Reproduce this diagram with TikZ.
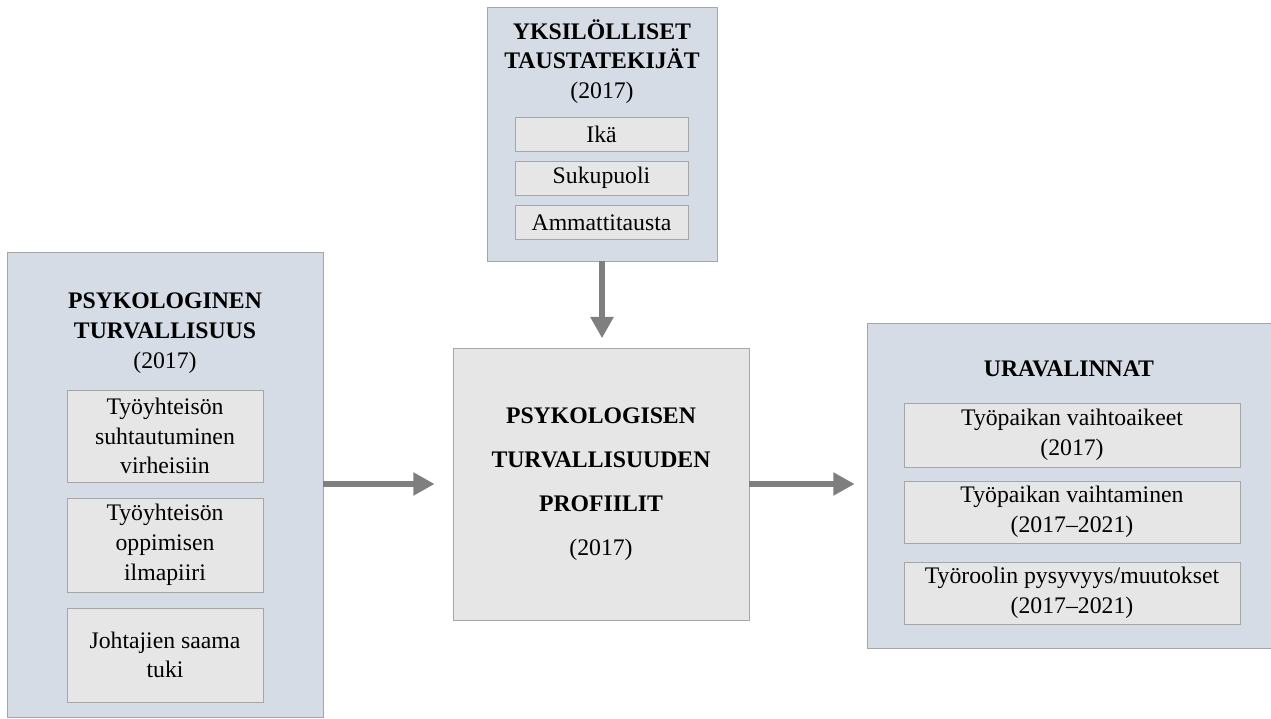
\documentclass[tikz,border=0pt]{standalone}
\usepackage{fontspec}
\setmainfont{Liberation Serif}
\usetikzlibrary{arrows.meta,positioning}
\definecolor{panelblue}{HTML}{D6DCE5}
\definecolor{itemgray}{HTML}{E7E6E6}
\definecolor{edgegray}{HTML}{A6A6A6}
\definecolor{arrowgray}{HTML}{7F7F7F}
\tikzset{
    boxsize/.style args={#1 by #2}{% sizes in pixels of the sketch
        minimum width=#1*0.75pt, minimum height=#2*0.75pt},
    panel/.style={% outer blue-gray frame
        draw=edgegray, fill=panelblue, line width=0.6pt, inner sep=0pt},
    item/.style={% inner gray box
        draw=edgegray, fill=itemgray, line width=0.6pt, inner sep=0pt, align=center},
    heading/.style={align=center, inner sep=0pt},
    flow/.style={draw=arrowgray, line width=5.2pt, -{Triangle[width=16.5pt,length=16pt]}}}

\begin{document}
\begin{tikzpicture}[x=0.75pt, y=-0.75pt, font=\fontsize{17.8}{22.3}\selectfont]
\useasboundingbox (0,0) rectangle (1271,718);
% background factors
\node[panel, boxsize=230 by 254] at (602,134) (taustat) { };
\node[heading] at (602,61.5) (taustat title) {\textbf{YKSILÖLLISET}\\\textbf{TAUSTATEKIJÄT}\\(2017)};
\node[item, boxsize=173 by 34] at (601.5,134) (ika) {Ikä};
\node[item, boxsize=173 by 34] at (601.5,178) (sukupuoli) {Sukupuoli};
\node[item, boxsize=173 by 34] at (601.5,222.5) (ammatti) {Ammattitausta};
% psychological safety
\node[panel, boxsize=316 by 465] at (165,484.5) (turva) { };
\node[heading] at (165,333) (turva title) {\textbf{PSYKOLOGINEN}\\\textbf{TURVALLISUUS}\\(2017)};
\node[item, boxsize=196 by 92] at (165,436) (virheet) {Työyhteisön\\suhtautuminen\\virheisiin};
\node[item, boxsize=196 by 94] at (165,545) (oppiminen) {Työyhteisön\\oppimisen\\ilmapiiri};
\node[item, boxsize=196 by 94] at (165,655) (tuki) {Johtajien saama\\tuki};
% profiles
\node[item, boxsize=296 by 272, font=\fontsize{17.8}{33}\selectfont] at (601,484) (profiilit)
    {\textbf{PSYKOLOGISEN}\\\textbf{TURVALLISUUDEN}\\\textbf{PROFIILIT}\\(2017)};
% career choices
\node[panel, boxsize=404 by 325] at (1069,485.5) (ura) { };
\node[heading] at (1069,369) (ura title) {\textbf{URAVALINNAT}};
\node[item, boxsize=336 by 64] at (1072,435) (aikeet) {Työpaikan vaihtoaikeet\\(2017)};
\node[item, boxsize=336 by 62] at (1072,512) (vaihto) {Työpaikan vaihtaminen\\(2017–2021)};
\node[item, boxsize=336 by 62] at (1072,593) (rooli) {Työroolin pysyvyys/muutokset\\(2017–2021)};
% connectors
\draw[flow, shorten >=7pt]  (taustat.south) -- (taustat.south |- profiilit.north);
\draw[flow, shorten >=13.5pt] (turva.east |- profiilit.west) -- (profiilit.west);
\draw[flow, shorten >=9pt]  (profiilit.east) -- (ura.west |- profiilit.east);
\end{tikzpicture}
\end{document}
